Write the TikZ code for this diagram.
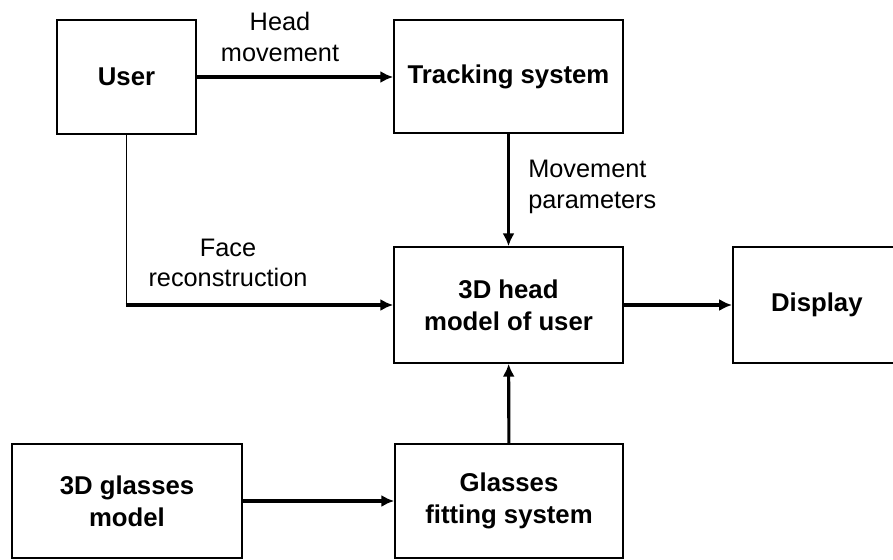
\documentclass[tikz,border=0pt]{standalone}
\usepackage{fontspec}
\setmainfont{Liberation Sans}
\usetikzlibrary{arrows.meta,positioning,calc}

\tikzset{
	block/.style={draw, line width=1.1pt, align=center, inner sep=0pt,
		font=\fontsize{18.3}{22.5}\selectfont\bfseries},
	label/.style={align=center, inner sep=0pt, font=\fontsize{18}{21.5}\selectfont},
	flow/.style={line width=2.2pt, -{Latex[length=0.32cm,width=0.3cm]}}
}

\begin{document}
\begin{tikzpicture}[x=0.025cm,y=-0.025cm]
		\useasboundingbox (0,0) rectangle (893,559);
		\clip (0,0) rectangle (893,559);

		% boxes
		\node[block, minimum width=3.475cm, minimum height=2.85cm] (user) at (126.5,77) {User};
		\node[block, minimum width=5.725cm, minimum height=2.825cm] (track) at (508.5,76.5) {Tracking system};
		\node[block, minimum width=5.725cm, minimum height=2.9cm] (head) at (508.5,305) {3D head\\model of user};
		\node[block, minimum width=4.8cm, minimum height=2.9cm, anchor=west] (disp) at (732,305) {\hspace*{-0.6cm}Display};
		\node[block, minimum width=5.75cm, minimum height=2.85cm] (glasses) at (127,501) {3D glasses\\model};
		\node[block, minimum width=5.7cm, minimum height=2.85cm] (fit) at (509,501) {Glasses\\fitting system};

		\coordinate (corner) at (user.south |- head.west);

		% connectors
		\draw[flow] (user) -- (user -| track.west);
		\draw[flow] (track) -- (head);
		\draw[line width=1.1pt] (user) -- (corner);
		\draw[flow] ([xshift=-0.55pt]corner) -- (head.west);
		\draw[flow] (head) -- (disp);
		\draw[flow] (glasses) -- (fit);
		\draw[flow] (fit) -- (head);

		% labels
		\node[label] (lhead) at (280,37) {Head\\movement};
		\node[label] (lface) at (228,263) {Face\\reconstruction};
		\node[label, align=left, anchor=west] (lmove) at (528,187) {Movement\\parameters};
	\end{tikzpicture}
\end{document}
